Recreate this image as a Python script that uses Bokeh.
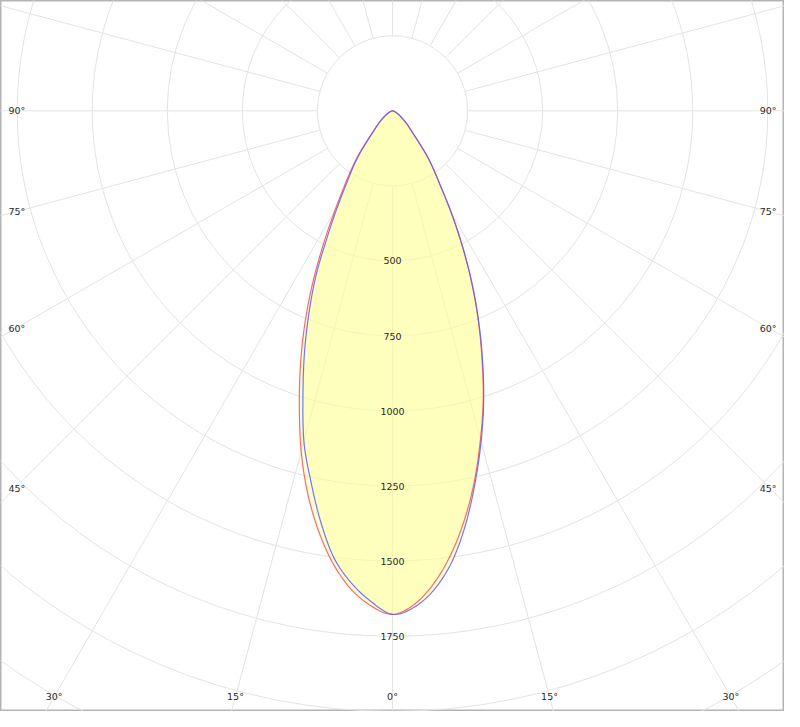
import numpy as np
from bokeh.plotting import figure
from bokeh.models import Range1d
from bokeh.core.properties import value
from bokeh.embed import file_html
from bokeh.resources import INLINE

# ---------------- data (cd) ----------------
gamma = [0, 2.5, 5, 7.5, 10, 12.5, 15, 17.5, 20, 22.5, 25, 27.5, 30, 32.5, 35,
         37.5, 40, 42.5, 45, 47.5, 50, 55, 60, 65, 70, 75, 80, 85, 90]
red_left = [1677, 1650, 1598, 1520, 1420, 1305, 1175, 1032, 895, 760, 625, 495, 385, 300, 240,
            188, 135, 100, 80, 65, 52, 33, 20, 12, 7, 4, 2, 1, 0]
red_right = [1677, 1646, 1580, 1490, 1382, 1262, 1132, 1005, 870, 742, 617, 497, 390, 298, 238,
             186, 133, 99, 79, 64, 51, 33, 20, 12, 7, 4, 2, 1, 0]
blue_left = [1677, 1636, 1578, 1500, 1385, 1260, 1140, 992, 857, 726, 600, 465, 362, 282, 228,
             178, 128, 95, 77, 62, 50, 32, 19, 11, 7, 4, 2, 1, 0]
blue_right = [1677, 1655, 1600, 1515, 1400, 1270, 1140, 1010, 875, 745, 620, 500, 392, 300, 240,
              188, 135, 100, 80, 65, 52, 33, 20, 12, 7, 4, 2, 1, 0]

ring_values = [250, 500, 750, 1000, 1250, 1500, 1750, 2000, 2250, 2500, 2750, 3000]
ring_labels = [500, 750, 1000, 1250, 1500, 1750]
spoke_angles = list(range(0, 360, 15))
angle_labels = [0, 15, 30, 45, 60, 75, 90]

# ---------------- layout ----------------
W, H = 784, 711
PX, PY = 392.0, 110.3          # pole position in figure pixels (from left / top)
S = 250 / (76.6 * 0.98)        # cd per pixel
GRID = "#e3e3e3"
TXT = "#2a2a2a"
FONT = value("DejaVu Sans")
FSIZE = value("9.5px")

p = figure(width=W, height=H,
           x_range=Range1d(-PX * S, (W - PX) * S),
           y_range=Range1d(-(H - PY) * S, PY * S),
           output_backend="svg", toolbar_location=None, min_border=0,
           x_axis_location=None, y_axis_location=None)
p.grid.grid_line_color = None
p.outline_line_color = "#b4b4b4"
p.outline_line_width = 2
p.background_fill_color = "white"
p.border_fill_color = "white"

# grid rings
p.circle(x=[0] * len(ring_values), y=[0] * len(ring_values), radius=ring_values,
         radius_units="data", fill_color=None, line_color=GRID, line_width=1)

# grid spokes (from the first ring outwards)
ang = np.radians(spoke_angles)
r0, r1 = ring_values[0], 4000
p.segment(x0=r0 * np.sin(ang), y0=-r0 * np.cos(ang),
          x1=r1 * np.sin(ang), y1=-r1 * np.cos(ang),
          line_color=GRID, line_width=1)


def smooth(x, y, n=8):
    """Catmull-Rom path through the given points (drawing only)."""
    P = np.column_stack([x, y])
    P = np.vstack([P[0], P, P[-1]])
    out = []
    t = np.linspace(0, 1, n, endpoint=False)[:, None]
    for i in range(1, len(P) - 2):
        p0, p1, p2, p3 = P[i - 1], P[i], P[i + 1], P[i + 2]
        seg = 0.5 * ((2 * p1) + (-p0 + p2) * t + (2 * p0 - 5 * p1 + 4 * p2 - p3) * t ** 2
                     + (-p0 + 3 * p1 - 3 * p2 + p3) * t ** 3)
        out.append(seg)
    out.append(P[-2][None, :])
    out = np.vstack(out)
    return out[:, 0], out[:, 1]


def curve(left, right):
    g = np.radians(gamma)
    L = np.array(left, float)
    R = np.array(right, float)
    xs = np.concatenate([(-L * np.sin(g))[::-1], (R * np.sin(g))[1:]])
    ys = np.concatenate([(-L * np.cos(g))[::-1], (-R * np.cos(g))[1:]])
    return smooth(xs, ys)


rx, ry = curve(red_left, red_right)
bx, by = curve(blue_left, blue_right)

p.patch(rx, ry, fill_color="#ffff99", fill_alpha=0.4, line_color=None)
p.patch(bx, by, fill_color="#ffff99", fill_alpha=0.4, line_color=None)
p.line(rx, ry, line_color="#ff5050", line_width=1.2, line_alpha=0.85)
p.line(bx, by, line_color="#5c5cff", line_width=1.2, line_alpha=0.85)

# ring value labels
p.text(x=[0] * len(ring_labels), y=[-v for v in ring_labels],
       text=[str(v) for v in ring_labels],
       text_align="center", text_baseline="middle",
       text_font=FONT, text_font_size=FSIZE, text_color=TXT)

# angle labels at the frame edges
side_d = (PX - 14.7) * S       # horizontal distance of side-label anchors from the pole
bottom_d = (696.3 - PY) * S    # vertical distance of bottom labels from the pole
lx, ly, lt, la = [], [], [], []
for a in angle_labels:
    t = np.radians(a)
    sides = [1] if a == 0 else [-1, 1]
    for sg in sides:
        if a < 90 and bottom_d * np.tan(t) < side_d - 20 * S:
            lx.append(sg * bottom_d * np.tan(t))
            ly.append(-bottom_d)
            la.append("center")
        else:
            ly.append(-side_d / np.tan(t) if a < 90 else 0.0)
            if sg < 0:
                lx.append(-(PX - 8) * S)
                la.append("left")
            else:
                lx.append((W - PX - 8) * S)
                la.append("right")
        lt.append(f"{a}°")

p.text(x=lx, y=ly, text=lt, text_align=la, text_baseline="middle",
       text_font=FONT, text_font_size=FSIZE, text_color=TXT)

open("out.html", "w").write(file_html(p, INLINE))
